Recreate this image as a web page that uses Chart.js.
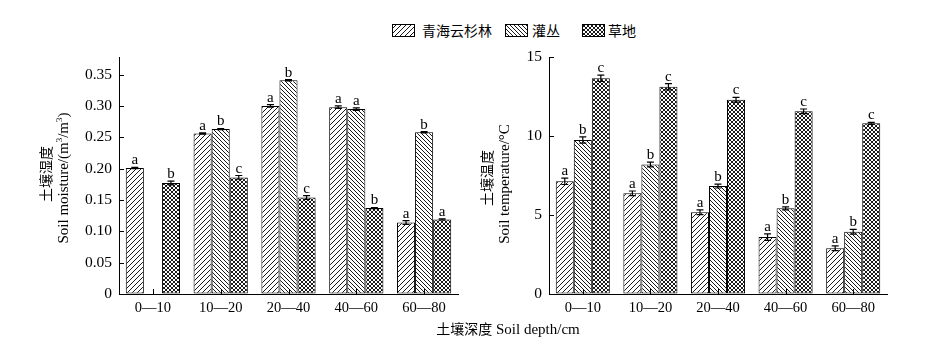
<!DOCTYPE html>
<html><head><meta charset="utf-8">
<script src="https://cdn.jsdelivr.net/npm/chart.js@4.4.1/dist/chart.umd.min.js"></script>
<style>
html,body{margin:0;padding:0;background:#fff;width:931px;height:355px;overflow:hidden;position:relative;}
.abs{position:absolute;}
.t{font-family:"Liberation Serif","Noto Sans CJK SC",serif;color:#000;white-space:nowrap;}
.cn{font-family:"Noto Sans CJK SC",sans-serif;}
.rot{transform:translate(-50%,-50%) rotate(-90deg);}
.legend{top:22px;left:392px;font-size:14px;}
.sw{position:absolute;top:2px;}
</style></head><body>
<div class="abs t legend" id="legend"></div>
<canvas id="c1" class="abs" width="470" height="355" style="left:0;top:0"></canvas>
<canvas id="c2" class="abs" width="461" height="355" style="left:470px;top:0"></canvas>
<div class="abs t rot cn" style="left:45px;top:174px;font-size:14px">土壤湿度</div>
<div class="abs t rot" style="left:63px;top:178px;font-size:15px">Soil moisture/(m<sup style="font-size:9px">3</sup>/m<sup style="font-size:9px">3</sup>)</div>
<div class="abs t rot cn" style="left:486px;top:178px;font-size:14px">土壤温度</div>
<div class="abs t rot" style="left:504px;top:184px;font-size:15px">Soil temperature/°C</div>
<div class="abs t" style="left:508px;top:328px;transform:translate(-50%,-50%);font-size:15px"><span class="cn" style="font-size:14px">土壤深度</span> Soil depth/cm</div>
<script>
// ---- data ----
const categories = ["0\u201410", "10\u201420", "20\u201440", "40\u201460", "60\u201480"];
const seriesNames = ["青海云杉林", "灌丛", "草地"];
const moistureForest = [0.201, 0.256, 0.300, 0.298, 0.114];
const moistureShrub  = [null, 0.263, 0.341, 0.295, 0.258];
const moistureGrass  = [0.177, 0.186, 0.154, 0.137, 0.119];
const moistureErrForest = [0.001, 0.001, 0.002, 0.002, 0.003];
const moistureErrShrub  = [null, 0.001, 0.001, 0.002, 0.001];
const moistureErrGrass  = [0.003, 0.003, 0.003, 0.001, 0.001];
const moistureLetForest = ["a", "a", "a", "a", "a"];
const moistureLetShrub  = [null, "b", "b", "a", "b"];
const moistureLetGrass  = ["b", "c", "c", "b", "a"];
const tempForest = [7.13, 6.37, 5.17, 3.60, 2.89];
const tempShrub  = [9.75, 8.20, 6.83, 5.42, 3.94];
const tempGrass  = [13.65, 13.12, 12.30, 11.56, 10.80];
const tempErrForest = [0.20, 0.15, 0.15, 0.20, 0.15];
const tempErrShrub  = [0.20, 0.15, 0.12, 0.10, 0.15];
const tempErrGrass  = [0.20, 0.20, 0.15, 0.15, 0.06];
const tempLetForest = ["a", "a", "a", "a", "a"];
const tempLetShrub  = ["b", "b", "b", "b", "b"];
const tempLetGrass  = ["c", "c", "c", "c", "c"];
const moistureTicks = [0, 0.05, 0.10, 0.15, 0.20, 0.25, 0.30, 0.35];
const tempTicks = [0, 5, 10, 15];

// ---- patterns ----
function makePattern(kind) {
  const s = kind === 'forest' ? 5 : 4;
  const c = document.createElement('canvas');
  c.width = s; c.height = s;
  const g = c.getContext('2d');
  g.fillStyle = '#fff'; g.fillRect(0, 0, s, s);
  g.strokeStyle = '#000'; g.lineWidth = 0.9;
  function slash() {
    g.beginPath();
    g.moveTo(0, s); g.lineTo(s, 0);
    g.moveTo(-1, 1); g.lineTo(1, -1);
    g.moveTo(s - 1, s + 1); g.lineTo(s + 1, s - 1);
    g.stroke();
  }
  function back() {
    g.beginPath();
    g.moveTo(0, 0); g.lineTo(s, s);
    g.moveTo(-1, s - 1); g.lineTo(1, s + 1);
    g.moveTo(s - 1, -1); g.lineTo(s + 1, 1);
    g.stroke();
  }
  if (kind === 'forest') slash();
  else if (kind === 'shrub') back();
  else { slash(); back(); }
  return g.createPattern(c, 'repeat');
}
const patterns = [makePattern('forest'), makePattern('shrub'), makePattern('grass')];

// ---- legend ----
(function(){
  const L = document.getElementById('legend');
  const pos = [[0, 30], [113, 140], [190, 216]];
  seriesNames.forEach((n, i) => {
    const cv = document.createElement('canvas');
    cv.width = 23; cv.height = 13; cv.className = 'sw';
    cv.style.left = pos[i][0] + 'px';
    const g = cv.getContext('2d');
    g.fillStyle = patterns[i]; g.fillRect(0, 0, 23, 13);
    g.strokeStyle = '#000'; g.lineWidth = 1; g.strokeRect(0.5, 0.5, 22, 12);
    L.appendChild(cv);
    const sp = document.createElement('span');
    sp.className = 'cn'; sp.textContent = n;
    sp.style.position = 'absolute'; sp.style.left = pos[i][1] + 'px'; sp.style.top = '-2px';
    L.appendChild(sp);
  });
})();

// ---- plugins ----
const errPlugin = {
  id: 'errbars',
  afterDatasetsDraw(chart, args, opts) {
    const ctx = chart.ctx, ys = chart.scales.y;
    ctx.save();
    chart.data.datasets.forEach((ds, i) => {
      const meta = chart.getDatasetMeta(i);
      meta.data.forEach((el, j) => {
        const v = ds.data[j];
        if (v === null || v === undefined) return;
        const e = opts.errors[i][j] || 0;
        const yt = ys.getPixelForValue(v + e), yb = ys.getPixelForValue(v - e);
        ctx.strokeStyle = '#000'; ctx.lineWidth = 1.2;
        ctx.beginPath();
        ctx.moveTo(el.x, yt); ctx.lineTo(el.x, yb);
        ctx.moveTo(el.x - 3.5, yt); ctx.lineTo(el.x + 3.5, yt);
        ctx.moveTo(el.x - 3.5, yb); ctx.lineTo(el.x + 3.5, yb);
        ctx.stroke();
        const lt = opts.letters[i][j];
        if (lt) {
          ctx.fillStyle = '#000';
          ctx.font = '15px "Liberation Serif", serif';
          ctx.textAlign = 'center'; ctx.textBaseline = 'alphabetic';
          ctx.fillText(lt, el.x, yt - 3);
        }
      });
    });
    ctx.restore();
  }
};
const tickPlugin = {
  id: 'inticks',
  afterDraw(chart) {
    const ctx = chart.ctx, a = chart.chartArea, ys = chart.scales.y, xs = chart.scales.x;
    ctx.save();
    ctx.strokeStyle = '#000'; ctx.lineWidth = 1;
    ctx.beginPath();
    ys.ticks.forEach(t => {
      const y = Math.round(ys.getPixelForValue(t.value)) + 0.5;
      ctx.moveTo(a.left, y); ctx.lineTo(a.left + 5, y);
    });
    xs.ticks.forEach((t, i) => {
      const x = Math.round(xs.getPixelForValue(i)) + 0.5;
      ctx.moveTo(x, a.bottom); ctx.lineTo(x, a.bottom - 5);
    });
    ctx.stroke();
    ctx.restore();
  }
};

const xTickFont = { family: '"Liberation Serif", serif', size: 14.5 };
const yTickFont = { family: '"Liberation Serif", serif', size: 15.5 };

function makeChart(id, sets, errs, lets, ymax, tickVals, fmt, yWidth, padRight) {
  const ds = sets.map((d, i) => ({
    label: seriesNames[i], data: d, backgroundColor: patterns[i],
    borderColor: '#000', borderWidth: 1, borderSkipped: false,
    categoryPercentage: 0.8, barPercentage: 1.0
  }));
  return new Chart(document.getElementById(id), {
    type: 'bar',
    data: { labels: categories, datasets: ds },
    plugins: [errPlugin, tickPlugin],
    options: {
      responsive: false, animation: false, devicePixelRatio: 1,
      layout: { padding: { top: 57, right: padRight, bottom: 31, left: 0 } },
      plugins: { legend: { display: false }, tooltip: { enabled: false },
        errbars: { errors: errs, letters: lets } },
      scales: {
        x: {
          offset: true,
          grid: { display: true, drawOnChartArea: false, drawTicks: false },
          border: { display: true, color: '#000', width: 1 },
          ticks: { color: '#000', font: xTickFont, padding: 5, maxRotation: 0, autoSkip: false },
          afterFit(s) { s.height = 30; }
        },
        y: {
          min: 0, max: ymax,
          grid: { display: true, drawOnChartArea: false, drawTicks: false },
          border: { display: true, color: '#000', width: 1 },
          ticks: { color: '#000', font: yTickFont, padding: 7, callback: fmt },
          afterBuildTicks(s) { s.ticks = tickVals.map(v => ({ value: v })); },
          afterFit(s) { s.width = yWidth; }
        }
      }
    }
  });
}

makeChart('c1', [moistureForest, moistureShrub, moistureGrass],
  [moistureErrForest, moistureErrShrub, moistureErrGrass],
  [moistureLetForest, moistureLetShrub, moistureLetGrass],
  0.378, moistureTicks, v => v === 0 ? '0' : v.toFixed(2), 119, 12);
makeChart('c2', [tempForest, tempShrub, tempGrass],
  [tempErrForest, tempErrShrub, tempErrGrass],
  [tempLetForest, tempLetShrub, tempLetGrass],
  15, tempTicks, v => String(v), 79, 44);
</script>
</body></html>
